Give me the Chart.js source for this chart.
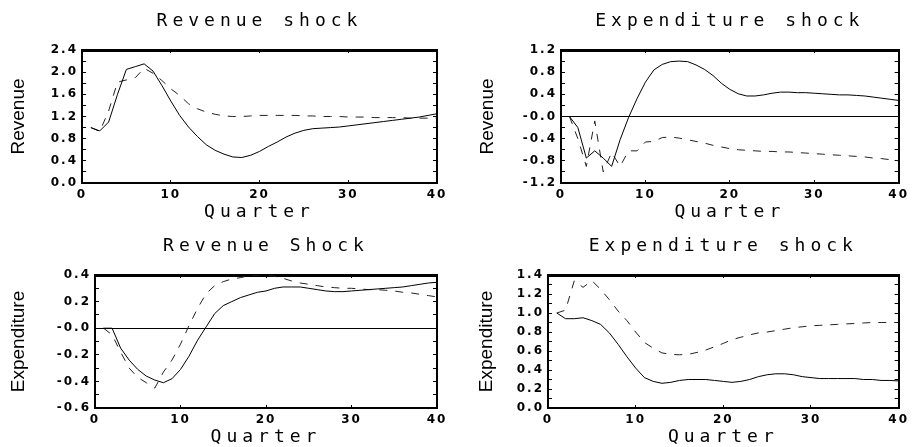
<!DOCTYPE html>
<html>
<head>
<meta charset="utf-8">
<script src="https://cdn.jsdelivr.net/npm/chart.js@4.4.0/dist/chart.umd.min.js"></script>
<style>
  html, body { margin: 0; padding: 0; background: #fff; }
  body { width: 915px; height: 447px; position: relative; overflow: hidden; }
  .panel { position: absolute; }
</style>
</head>
<body>
<div class="panel" style="left:0;top:0"><canvas id="c1" width="455" height="225"></canvas></div>
<div class="panel" style="left:455px;top:0"><canvas id="c2" width="460" height="225"></canvas></div>
<div class="panel" style="left:0;top:225px"><canvas id="c3" width="455" height="225"></canvas></div>
<div class="panel" style="left:455px;top:225px"><canvas id="c4" width="460" height="225"></canvas></div>
<script>
const quarters = [1, 2, 3, 4, 5, 6, 7, 8, 9, 10, 11, 12, 13, 14, 15, 16, 17, 18, 19, 20,
                  21, 22, 23, 24, 25, 26, 27, 28, 29, 30, 31, 32, 33, 34, 35, 36, 37, 38, 39, 40];
const xTickLabels = ['0', '10', '20', '30', '40'];

// revenue shock -> revenue
const revShockRevSolid = [1.00, 0.94, 1.10, 1.60, 2.05, 2.10, 2.15, 2.02, 1.76, 1.48, 1.22, 1.01, 0.84, 0.69, 0.59, 0.52,
                          0.47, 0.46, 0.50, 0.57, 0.66, 0.74, 0.83, 0.90, 0.95, 0.98, 0.99, 1.00, 1.01, 1.03, 1.05, 1.07,
                          1.09, 1.11, 1.13, 1.15, 1.17, 1.19, 1.22, 1.25];
const revShockRevDashed = [1.00, 0.93, 1.30, 1.82, 1.86, 1.90, 2.07, 1.98, 1.85, 1.70, 1.58, 1.43, 1.34, 1.28, 1.24, 1.21,
                           1.20, 1.20, 1.21, 1.22, 1.22, 1.22, 1.22, 1.22, 1.21, 1.21, 1.20, 1.20, 1.20, 1.19, 1.19, 1.19,
                           1.18, 1.18, 1.18, 1.18, 1.17, 1.17, 1.17, 1.17];
const revenueTicks1 = ['0.0', '0.4', '0.8', '1.2', '1.6', '2.0', '2.4'];

// expenditure shock -> revenue
const expShockRevSolid = [0.00, -0.20, -0.75, -0.62, -0.75, -0.90, -0.42, -0.02, 0.32, 0.62, 0.84, 0.94, 0.99, 1.00, 0.99, 0.93,
                          0.85, 0.74, 0.60, 0.49, 0.41, 0.37, 0.37, 0.39, 0.42, 0.44, 0.44, 0.43, 0.43, 0.42, 0.41, 0.40,
                          0.39, 0.39, 0.38, 0.37, 0.35, 0.33, 0.31, 0.29];
const expShockRevDashed = [0.00, -0.40, -0.90, -0.08, -1.00, -0.65, -0.90, -0.62, -0.62, -0.46, -0.45, -0.38, -0.37, -0.39, -0.42, -0.45,
                           -0.48, -0.52, -0.55, -0.58, -0.60, -0.61, -0.62, -0.63, -0.63, -0.64, -0.64, -0.65, -0.66, -0.67, -0.68, -0.69,
                           -0.70, -0.71, -0.72, -0.73, -0.75, -0.76, -0.78, -0.80];
const revenueTicks2 = ['-1.2', '-0.8', '-0.4', '-0.0', '0.4', '0.8', '1.2'];

// revenue shock -> expenditure
const revShockExpSolid = [0.00, 0.00, -0.15, -0.24, -0.31, -0.36, -0.39, -0.41, -0.38, -0.31, -0.21, -0.09, 0.01, 0.11, 0.17, 0.20,
                          0.23, 0.25, 0.27, 0.28, 0.30, 0.31, 0.31, 0.31, 0.30, 0.29, 0.28, 0.275, 0.275, 0.28, 0.285, 0.29,
                          0.295, 0.30, 0.305, 0.31, 0.32, 0.33, 0.34, 0.345];
const revShockExpDashed = [0.00, -0.05, -0.18, -0.30, -0.37, -0.41, -0.45, -0.33, -0.24, -0.12, 0.02, 0.15, 0.26, 0.32, 0.35, 0.37,
                           0.38, 0.395, 0.40, 0.40, 0.39, 0.375, 0.355, 0.34, 0.33, 0.32, 0.31, 0.305, 0.30, 0.30, 0.295, 0.29,
                           0.29, 0.285, 0.28, 0.27, 0.265, 0.255, 0.245, 0.235];
const expenditureTicks1 = ['-0.6', '-0.4', '-0.2', '-0.0', '0.2', '0.4'];

// expenditure shock -> expenditure
const expShockExpSolid = [1.00, 0.94, 0.94, 0.95, 0.92, 0.88, 0.79, 0.67, 0.54, 0.42, 0.32, 0.28, 0.26, 0.27, 0.29, 0.30,
                          0.30, 0.30, 0.29, 0.28, 0.27, 0.28, 0.30, 0.33, 0.35, 0.36, 0.36, 0.35, 0.33, 0.32, 0.31, 0.31,
                          0.31, 0.31, 0.31, 0.30, 0.30, 0.29, 0.29, 0.285];
const expShockExpDashed = [1.00, 1.03, 1.34, 1.27, 1.34, 1.25, 1.14, 1.02, 0.92, 0.80, 0.69, 0.63, 0.58, 0.565, 0.56, 0.565,
                           0.585, 0.61, 0.645, 0.68, 0.72, 0.745, 0.77, 0.79, 0.80, 0.815, 0.83, 0.845, 0.855, 0.865, 0.87, 0.875,
                           0.88, 0.885, 0.89, 0.895, 0.90, 0.90, 0.90, 0.90];
const expenditureTicks2 = ['0.0', '0.2', '0.4', '0.6', '0.8', '1.0', '1.2', '1.4'];

// canvas text has no letter-spacing option in Chart.js, so set it around the draw calls
function withSpacing(obj, name, px) {
  const fn = obj[name];
  obj[name] = function () {
    const ctx = this.ctx;
    const old = ctx.letterSpacing;
    ctx.letterSpacing = px;
    fn.apply(this, arguments);
    ctx.letterSpacing = old;
  };
}

const spacing = {
  id: 'spacing',
  beforeDraw(chart, args, opts) {
    if (chart.$spaced) return;
    chart.$spaced = true;
    Object.values(chart.scales).forEach(s => {
      withSpacing(s, 'drawLabels', opts.ticks);
      if (s.axis === 'x') withSpacing(s, 'drawTitle', opts.title);
    });
    if (chart.titleBlock) withSpacing(chart.titleBlock, 'draw', opts.title);
  }
};

const wideFont = {family: 'DejaVu Sans Mono', size: 18, weight: 'normal', lineHeight: '20px'};
const tickFont = {family: 'DejaVu Sans', size: 12, weight: 'bold'};

function makePanel(id, p) {
  const points = ys => quarters.map((q, i) => ({x: q, y: ys[i]}));
  const inwardTicks = {display: true, drawOnChartArea: false, tickLength: -3, tickColor: '#000', tickWidth: 1};

  return new Chart(document.getElementById(id), {
    type: 'line',
    data: {
      datasets: [
        {data: points(p.solid), borderColor: '#000', borderWidth: 1},
        {data: points(p.dashed), borderColor: '#222', borderWidth: 1, borderDash: [8, 8]}
      ]
    },
    options: {
      responsive: false,
      animation: false,
      devicePixelRatio: 1,
      layout: {padding: 0},
      elements: {point: {radius: 0}, line: {tension: 0}},
      plugins: {
        legend: {display: false},
        tooltip: {enabled: false},
        title: {
          display: true, text: p.title, fullSize: false, color: '#000',
          font: wideFont, padding: {top: 11, bottom: 19}
        },
        spacing: {title: '5px', ticks: '2px'}
      },
      scales: {
        x: {
          type: 'linear', position: 'bottom', min: 0, max: 40,
          border: {color: '#000', width: 2},
          grid: inwardTicks,
          ticks: {
            stepSize: 10, autoSkip: false, maxRotation: 0, padding: 8, color: '#000', font: tickFont,
            callback: (v, i) => xTickLabels[i]
          },
          title: {display: true, text: 'Quarter', color: '#000', font: wideFont, padding: {top: 0, bottom: 2.5}},
          afterFit: s => { s.height = 42; }
        },
        xTop: {
          type: 'linear', position: 'top', min: 0, max: 40,
          border: {color: '#000', width: 3},
          grid: inwardTicks,
          ticks: {display: false, stepSize: 10},
          afterFit: s => { s.height = 0; }
        },
        y: {
          type: 'linear', position: 'left', min: p.min, max: p.max,
          border: {color: '#000', width: 2},
          grid: {
            display: true, drawOnChartArea: true, tickLength: -4, tickColor: '#000', tickWidth: 1, lineWidth: 1,
            color: c => c.tick && c.tick.value === 0 ? '#000' : 'rgba(0,0,0,0)'
          },
          ticks: {
            stepSize: p.step, autoSkip: false, padding: 8, color: '#000', font: tickFont,
            callback: (v, i) => i % 2 === 0 ? p.ticks[i / 2] : ''
          },
          title: {
            display: true, text: p.yTitle, color: '#000',
            font: {family: 'Liberation Sans', size: 19, weight: 'normal', lineHeight: '20px'},
            padding: {top: p.yTitlePad, bottom: 0}
          },
          afterFit: s => { s.width = p.left; }
        },
        yRight: {
          type: 'linear', position: 'right', min: p.min, max: p.max,
          border: {color: '#000', width: 2},
          grid: {display: true, drawOnChartArea: false, tickLength: -4, tickColor: '#000', tickWidth: 1},
          ticks: {display: false, stepSize: p.step, autoSkip: false},
          afterFit: s => { s.width = p.right; }
        }
      }
    },
    plugins: [spacing]
  });
}

makePanel('c1', {
  title: 'Revenue shock', yTitle: 'Revenue', solid: revShockRevSolid, dashed: revShockRevDashed,
  min: 0, max: 2.4, step: 0.2, ticks: revenueTicks1, left: 82, right: 18, yTitlePad: 9
});
makePanel('c2', {
  title: 'Expenditure shock', yTitle: 'Revenue', solid: expShockRevSolid, dashed: expShockRevDashed,
  min: -1.2, max: 1.2, step: 0.2, ticks: revenueTicks2, left: 106, right: 10, yTitlePad: 23
});
makePanel('c3', {
  title: 'Revenue Shock', yTitle: 'Expenditure', solid: revShockExpSolid, dashed: revShockExpDashed,
  min: -0.6, max: 0.4, step: 0.1, ticks: expenditureTicks1, left: 95, right: 18, yTitlePad: 9
});
makePanel('c4', {
  title: 'Expenditure shock', yTitle: 'Expenditure', solid: expShockExpSolid, dashed: expShockExpDashed,
  min: 0, max: 1.4, step: 0.1, ticks: expenditureTicks2, left: 93, right: 10, yTitlePad: 22
});
</script>
</body>
</html>
